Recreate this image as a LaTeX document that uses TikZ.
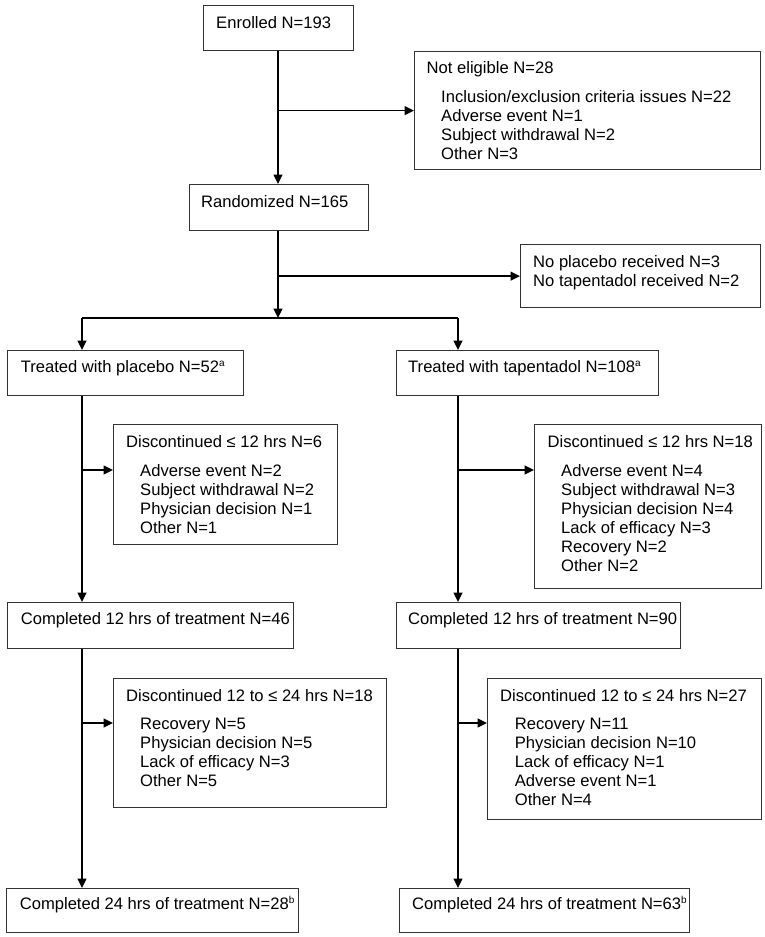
\documentclass[tikz,border=0pt]{standalone}
\usepackage{fontspec}
\setmainfont{Liberation Sans}
\usetikzlibrary{arrows.meta}
\newcommand{\supmark}[1]{\raisebox{6pt}{\fontsize{10pt}{10pt}\selectfont #1}}
\tikzset{
  box/.style={draw=black!80, line width=1.2pt, rectangle, inner sep=0pt, anchor=north west},
  txt/.style={anchor=base west, inner sep=0pt},
  ln/.style={line width=1.5pt, black},
  arr/.style={line width=1.5pt, black, -{Triangle[length=9.5pt,width=9pt]}}
}
\begin{document}
\begin{tikzpicture}[x=1pt,y=-1pt,font=\fontsize{16.6pt}{19pt}\selectfont]
\useasboundingbox (0,0) rectangle (764,937);
% boxes
\node[box, minimum width=150pt, minimum height=45pt] (enr) at (203,5) {};
\node[box, minimum width=346pt, minimum height=118pt] (ne) at (414,51) {};
\node[box, minimum width=179pt, minimum height=46pt] (rand) at (189,184) {};
\node[box, minimum width=240pt, minimum height=63pt] (np) at (520,244) {};
\node[box, minimum width=236pt, minimum height=45pt] (tp) at (7,350) {};
\node[box, minimum width=262pt, minimum height=45pt] (tt) at (396,350) {};
\node[box, minimum width=224pt, minimum height=120pt] (d1l) at (113,424) {};
\node[box, minimum width=227pt, minimum height=164pt] (d1r) at (534,424) {};
\node[box, minimum width=286pt, minimum height=46pt] (c12l) at (7,602) {};
\node[box, minimum width=284pt, minimum height=46pt] (c12r) at (396,602) {};
\node[box, minimum width=273pt, minimum height=129pt] (d2l) at (113,678) {};
\node[box, minimum width=274pt, minimum height=141pt] (d2r) at (487,678) {};
\node[box, minimum width=292pt, minimum height=44pt] (c24l) at (6,888) {};
\node[box, minimum width=290pt, minimum height=44pt] (c24r) at (399,888) {};
% texts
\node[txt] (t-enr) at (216,28.7) {Enrolled N=193};
\node[txt] (t-ne) at (426.5,73.7) {Not eligible N=28};
\node[txt] (t-ne1) at (441,102.7) {Inclusion/exclusion criteria issues N=22};
\node[txt] (t-ne2) at (441,121.7) {Adverse event N=1};
\node[txt] (t-ne3) at (441,140.7) {Subject withdrawal N=2};
\node[txt] (t-ne4) at (441,159.7) {Other N=3};
\node[txt] (t-rand) at (201,207.7) {Randomized N=165};
\node[txt] (t-np1) at (533,267.7) {No placebo received N=3};
\node[txt] (t-np2) at (533,286.7) {No tapentadol received N=2};
\node[txt] (t-tp) at (20.6,372.7) {Treated with placebo N=52\supmark{a}};
\node[txt] (t-tt) at (408,372.7) {Treated with tapentadol N=108\supmark{a}};
\node[txt] (t-d1l) at (126,447.7) {Discontinued ≤ 12 hrs N=6};
\node[txt] (t-d1l1) at (140,476) {Adverse event N=2};
\node[txt] (t-d1l2) at (140,495) {Subject withdrawal N=2};
\node[txt] (t-d1l3) at (140,514) {Physician decision N=1};
\node[txt] (t-d1l4) at (140,533) {Other N=1};
\node[txt] (t-d1r) at (547.5,447.7) {Discontinued ≤ 12 hrs N=18};
\node[txt] (t-d1r1) at (561,476) {Adverse event N=4};
\node[txt] (t-d1r2) at (561,495) {Subject withdrawal N=3};
\node[txt] (t-d1r3) at (561,514) {Physician decision N=4};
\node[txt] (t-d1r4) at (561,533) {Lack of efficacy N=3};
\node[txt] (t-d1r5) at (561,552) {Recovery N=2};
\node[txt] (t-d1r6) at (561,571) {Other N=2};
\node[txt] (t-c12l) at (20.6,624) {Completed 12 hrs of treatment N=46};
\node[txt] (t-c12r) at (408,624) {Completed 12 hrs of treatment N=90};
\node[txt] (t-d2l) at (126,701) {Discontinued 12 to ≤ 24 hrs N=18};
\node[txt] (t-d2l1) at (140,729.3) {Recovery N=5};
\node[txt] (t-d2l2) at (140,748.3) {Physician decision N=5};
\node[txt] (t-d2l3) at (140,767.3) {Lack of efficacy N=3};
\node[txt] (t-d2l4) at (140,786.3) {Other N=5};
\node[txt] (t-d2r) at (500,701) {Discontinued 12 to ≤ 24 hrs N=27};
\node[txt] (t-d2r1) at (514.7,729.3) {Recovery N=11};
\node[txt] (t-d2r2) at (514.7,748.3) {Physician decision N=10};
\node[txt] (t-d2r3) at (514.7,767.3) {Lack of efficacy N=1};
\node[txt] (t-d2r4) at (514.7,786.3) {Adverse event N=1};
\node[txt] (t-d2r5) at (514.7,805.3) {Other N=4};
\node[txt] (t-c24l) at (19.6,909.3) {Completed 24 hrs of treatment N=28\supmark{b}};
\node[txt] (t-c24r) at (412,909.3) {Completed 24 hrs of treatment N=63\supmark{b}};
% connectors
\coordinate (M) at (278,318);
\coordinate (L) at (82,318);
\coordinate (R) at (458,318);
\coordinate (a1l) at ([yshift=-46pt]d1l.north west);
\coordinate (a1r) at ([yshift=-46pt]d1r.north west);
\coordinate (a2l) at ([yshift=-45pt]d2l.north west);
\coordinate (a2r) at ([yshift=-45pt]d2r.north west);
\draw[arr] (M |- enr.south) -- (M |- rand.north);
\draw[arr] (M |- ne.west) -- (ne.west);
\draw[arr] (M |- rand.south) -- (M);
\draw[arr] (M |- np.west) -- (np.west);
\draw[ln] (L) -- (R);
\draw[arr] (L) -- (L |- tp.north);
\draw[arr] (R) -- (R |- tt.north);
\draw[arr] (L |- tp.south) -- (L |- c12l.north);
\draw[arr] (R |- tt.south) -- (R |- c12r.north);
\draw[arr] (L |- a1l) -- (a1l);
\draw[arr] (R |- a1r) -- (a1r);
\draw[arr] (L |- c12l.south) -- (L |- c24l.north);
\draw[arr] (R |- c12r.south) -- (R |- c24r.north);
\draw[arr] (L |- a2l) -- (a2l);
\draw[arr] (R |- a2r) -- (a2r);
\end{tikzpicture}
\end{document}
